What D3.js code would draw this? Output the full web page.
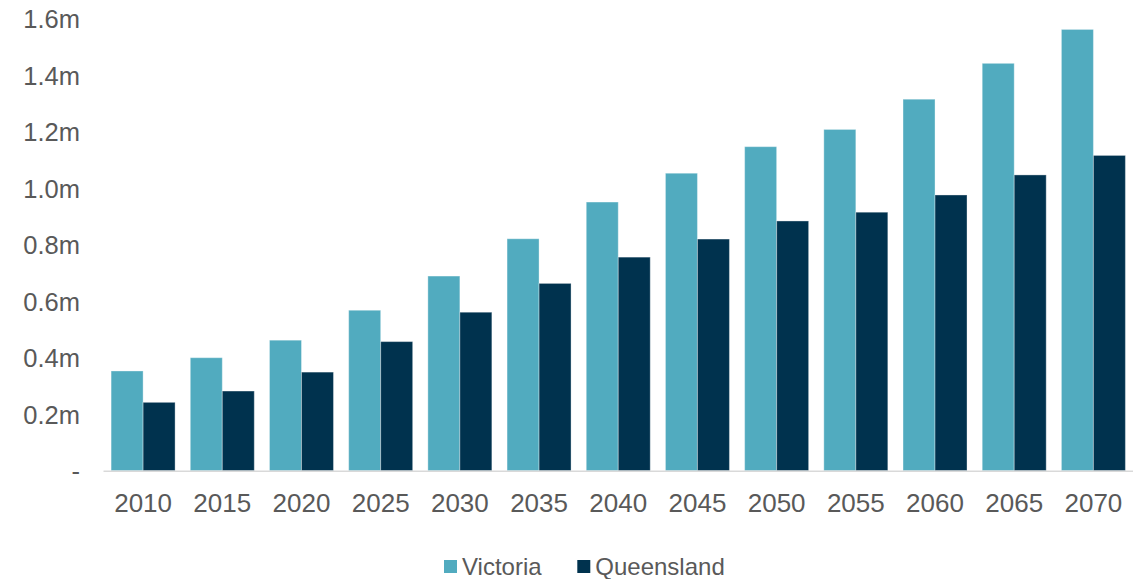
<!DOCTYPE html>
<html>
<head>
<meta charset="utf-8">
<script src="https://cdn.jsdelivr.net/npm/d3@7"></script>
<style>
html,body{margin:0;padding:0;background:#fff;}
svg{display:block;font-family:"Liberation Sans",Arial,sans-serif;}
</style>
</head>
<body>
<svg id="chart" width="1146" height="579"></svg>
<script>
const years = ["2010","2015","2020","2025","2030","2035","2040","2045","2050","2055","2060","2065","2070"];
const victoria = [0.353,0.400,0.462,0.568,0.689,0.821,0.951,1.053,1.147,1.208,1.315,1.442,1.562];
const queensland = [0.242,0.282,0.349,0.457,0.561,0.663,0.756,0.820,0.884,0.915,0.976,1.047,1.116];
const seriesNames = ["Victoria","Queensland"];
const yTicks = [0,0.2,0.4,0.6,0.8,1.0,1.2,1.4,1.6];
const yTickLabels = ["-","0.2m","0.4m","0.6m","0.8m","1.0m","1.2m","1.4m","1.6m"];

const colors = {Victoria:"#51ABBF", Queensland:"#00324E"};
const textColor = "#595959";
const seriesValues = {Victoria: victoria, Queensland: queensland};

const svg = d3.select("#chart");
const plotLeft = 103.5, plotRight = 1133, plotTop = 18.7, plotBottom = 470.7;

const x = d3.scaleBand().domain(years).range([plotLeft, plotRight]).paddingInner(0.192).paddingOuter(0.096);
const xs = d3.scaleBand().domain(seriesNames).range([0, x.bandwidth()]);
const y = d3.scaleLinear().domain([0, 1.6]).range([plotBottom, plotTop]);

// bars
const groups = svg.append("g").selectAll("g").data(years).join("g")
  .attr("transform", d => `translate(${x(d)},0)`);
groups.selectAll("rect")
  .data((d,i) => seriesNames.map(s => ({s, v: seriesValues[s][i]})))
  .join("rect")
  .attr("x", d => xs(d.s))
  .attr("width", xs.bandwidth())
  .attr("y", d => y(d.v))
  .attr("height", d => plotBottom - y(d.v))
  .attr("fill", d => colors[d.s])
  .attr("stroke", "rgba(255,255,255,0.35)")
  .attr("stroke-width", 1);

// x axis line
svg.append("line")
  .attr("x1", plotLeft).attr("x2", plotRight)
  .attr("y1", plotBottom + 0.5).attr("y2", plotBottom + 0.5)
  .attr("stroke", "#D9D9D9").attr("stroke-width", 1.5);

// x axis labels
const xAxis = d3.axisBottom(x).tickSize(0).tickPadding(0);
const gx = svg.append("g").attr("transform", `translate(0,${plotBottom})`).call(xAxis);
gx.select(".domain").remove();
gx.selectAll("text")
  .attr("dy", null).attr("y", 41.6)
  .attr("font-size", 26).attr("fill", textColor)
  .attr("font-family", "Liberation Sans, Arial, sans-serif");

// y axis labels
const yAxis = d3.axisLeft(y).tickValues(yTicks).tickSize(0).tickPadding(0)
  .tickFormat((d,i) => yTickLabels[i]);
const gy = svg.append("g").attr("transform", `translate(80,0)`).call(yAxis);
gy.select(".domain").remove();
gy.selectAll("text")
  .attr("dy", "0.35em")
  .attr("font-size", 25.5).attr("fill", textColor)
  .attr("font-family", "Liberation Sans, Arial, sans-serif");

// legend
const legendX = [444, 577.3];
const lg = svg.append("g").selectAll("g").data(seriesNames).join("g")
  .attr("transform", (d,i) => `translate(${legendX[i]},560)`);
lg.append("rect").attr("width", 13).attr("height", 13).attr("fill", d => colors[d]);
lg.append("text").attr("x", 18).attr("y", 6.5).attr("dy", "0.35em")
  .attr("font-size", 24).attr("fill", textColor).text(d => d);
</script>
</body>
</html>
